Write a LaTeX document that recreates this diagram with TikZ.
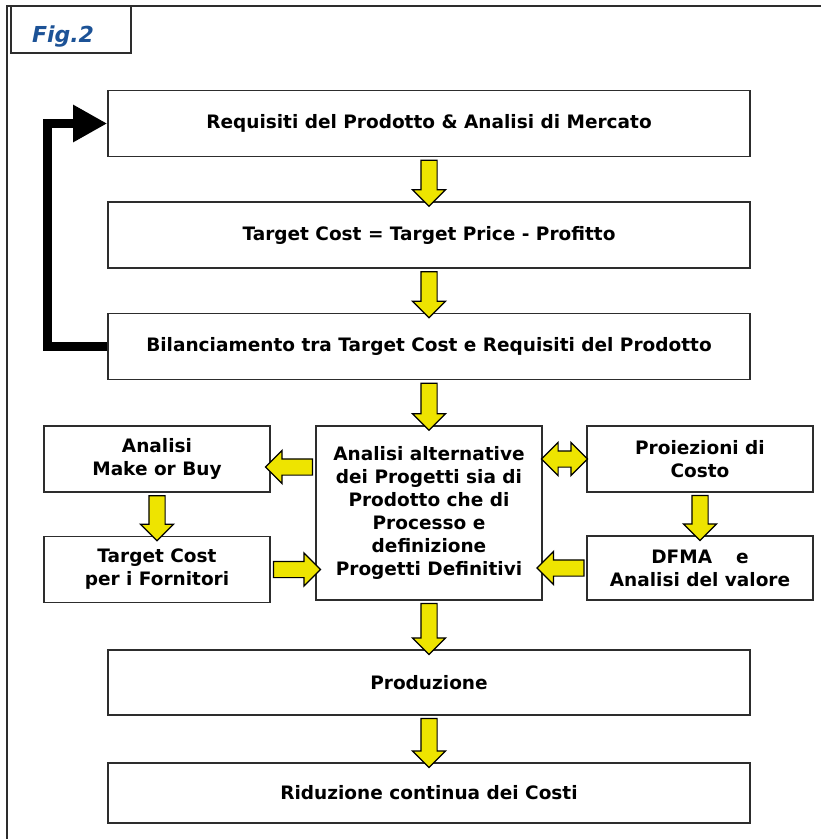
\documentclass[tikz,border=0pt]{standalone}
\usepackage{fontspec}
\setmainfont{DejaVu Sans}
\usetikzlibrary{positioning,shapes.arrows,arrows.meta}

\definecolor{boxline}{RGB}{45,45,45}
\definecolor{arrowyellow}{RGB}{238,228,0}
\definecolor{figblue}{RGB}{28,82,150}

\begin{document}
\begin{tikzpicture}[
% Change style
	x=1pt, y=1pt,
	node distance=111.5pt,
	on grid,
	every node/.style={font=\bfseries\fontsize{18.5}{23}\selectfont, align=center},
	stage/.style={draw=boxline, line width=1.6pt, fill=white,
		minimum width=642pt, minimum height=66pt, inner sep=0pt},
	side/.style={stage, minimum width=226pt},
	yarrow/.style={single arrow, draw=black, line width=1.2pt, fill=arrowyellow,
		inner xsep=0pt, inner ysep=7.5pt, single arrow head extend=8.5pt,
		single arrow head indent=0pt, minimum width=32pt, minimum height=#1,
		sloped, allow upside down},
	yarrow/.default=46pt,
	ydouble/.style={double arrow, draw=black, line width=1.2pt, fill=arrowyellow,
		inner xsep=0pt, inner ysep=7.5pt, double arrow head extend=8.5pt,
		double arrow head indent=0pt, minimum width=32pt, minimum height=#1,
		sloped},
	ydouble/.default=46pt,
	feedback/.style={line width=9pt, -{Triangle[length=34pt, width=35pt]}}]

\useasboundingbox (0,0) rectangle (821,-839);

% Frame
\draw[boxline, line width=1.5pt] (821,-6) -- (7,-6) -- (7,-839);

% Title
\node[draw=boxline, line width=1.6pt, minimum width=120pt, minimum height=47pt,
	inner xsep=21pt, text width=78pt, align=left, text height=26pt, text depth=0pt,
	font=\bfseries\itshape\fontsize{22}{26}\selectfont, text=figblue] (fig) at (71,-29.5) {Fig.2};

% Requisiti
\node[stage] (req) at (429,-123.5) {Requisiti del Prodotto \& Analisi di Mercato};

% Target cost
\node[stage, below=of req] (tc) {Target Cost = Target Price - Profitto};

% Bilanciamento
\node[stage, below=of tc] (bil) {Bilanciamento tra Target Cost e Requisiti del Prodotto};

% Analisi alternative
\node[side, below=166.5pt of bil, minimum height=174pt] (alt)
	{Analisi alternative\\dei Progetti sia di\\Prodotto che di\\Processo e\\definizione\\Progetti Definitivi};

% Make or buy
\node[side, above left=54pt and 272pt of alt] (mob) {Analisi\\Make or Buy};

% Fornitori
\node[side, below=110.5pt of mob] (tcf) {Target Cost\\per i Fornitori};

% Proiezioni
\node[side, above right=54pt and 271pt of alt] (pro) {Proiezioni di\\Costo};

% DFMA
\node[side, below=109pt of pro, minimum height=64pt] (dfma) {DFMA\hspace{24pt}e\\Analisi del valore};

% Produzione
\node[stage, below=169.5pt of alt, minimum height=65pt] (prod) {Produzione};

% Riduzione
\node[stage, below=110.5pt of prod, minimum height=60pt] (rid) {Riduzione continua dei Costi};

% Connections
\path (req.south) -- node[yarrow] {} (tc.north)
	(tc.south) -- node[yarrow] {} (bil.north)
	(bil.south) -- node[yarrow=47pt] {} (alt.north)
	(alt.south) -- node[yarrow=51pt] {} (prod.north)
	(prod.south) -- node[yarrow=49pt] {} (rid.north)
	(mob.south) -- node[yarrow=45pt] {} (tcf.north)
	(pro.south) -- node[yarrow=45pt] {} (dfma.north)
	([yshift=-8pt]alt.west |- mob.east) -- node[yarrow=47pt] {} ([yshift=-8pt]mob.east)
	(tcf.east) -- node[yarrow=47pt] {} (tcf.east -| alt.west)
	(dfma.west) -- node[yarrow=47pt] {} (dfma.west -| alt.east)
	(alt.east |- pro.west) -- node[ydouble] {} (pro.west);

\draw[feedback] (bil.west) -- ++(-60,0) |- (req.west);

\end{tikzpicture}
\end{document}
